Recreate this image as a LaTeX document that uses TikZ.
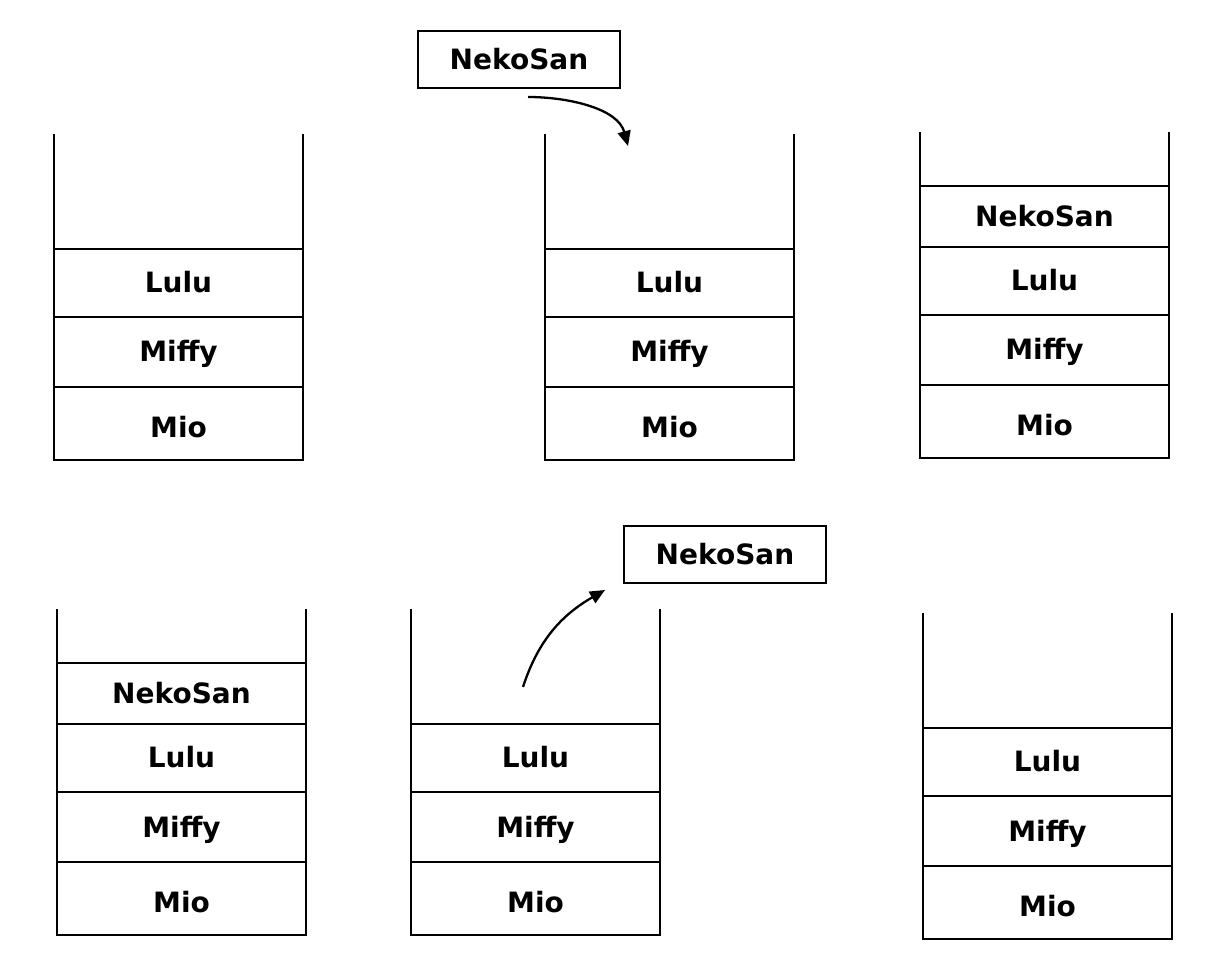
\documentclass[tikz,border=0pt]{standalone}
\usepackage{fontspec}
\setmainfont{DejaVu Sans}
\usepackage{tikz}
\usetikzlibrary{arrows.meta}
\usetikzlibrary{calc,positioning}

\tikzset{
    cell/.style={draw, rectangle, outer sep=0pt, minimum width=249pt,
        font=\fontsize{28}{32}\selectfont\bfseries, text height=20pt, text depth=0pt},
    mio/.style={cell, minimum height=73pt, text height=28pt},
    miffy/.style={cell, minimum height=70pt},
    lulu/.style={cell, minimum height=68pt},
    neko/.style={cell, minimum height=61pt},
    namebox/.style={draw, rectangle, outer sep=0pt, minimum width=202pt, minimum height=57pt,
        font=\fontsize{28}{32}\selectfont\bfseries, text height=20pt, text depth=0pt},
}

\begin{document}
\begin{tikzpicture}[x=1pt, y=1pt, line width=2.3pt, >={Triangle[length=15pt,width=13pt]}]

    \useasboundingbox (0,0) rectangle (1232,970);

    % top row
    \node[mio] (a-mio) at (178.5,546.5) {Mio};
    \node[miffy] (a-miffy) [above=0pt of a-mio] {Miffy};
    \node[lulu] (a-lulu) [above=0pt of a-miffy] {Lulu};
    \draw (a-lulu.north west) -- ++(0,115);
    \draw (a-lulu.north east) -- ++(0,115);

    \node[mio] (b-mio) at (669.5,546.5) {Mio};
    \node[miffy] (b-miffy) [above=0pt of b-mio] {Miffy};
    \node[lulu] (b-lulu) [above=0pt of b-miffy] {Lulu};
    \draw (b-lulu.north west) -- ++(0,115);
    \draw (b-lulu.north east) -- ++(0,115);

    \node[namebox] (b-in) at (519,910.5) {NekoSan};
    \coordinate (b-drop) at (628,824);
    \draw[->] ([xshift=9pt,yshift=-9pt]b-in.south) to[out=0,in=105,looseness=0.9] (b-drop);

    \node[mio] (c-mio) at (1044.5,548.5) {Mio};
    \node[miffy] (c-miffy) [above=0pt of c-mio] {Miffy};
    \node[lulu] (c-lulu) [above=0pt of c-miffy] {Lulu};
    \node[neko] (c-neko) [above=0pt of c-lulu] {NekoSan};
    \draw (c-neko.north west) -- ++(0,54);
    \draw (c-neko.north east) -- ++(0,54);

    % bottom row
    \node[mio] (d-mio) at (181.5,71.5) {Mio};
    \node[miffy] (d-miffy) [above=0pt of d-mio] {Miffy};
    \node[lulu] (d-lulu) [above=0pt of d-miffy] {Lulu};
    \node[neko] (d-neko) [above=0pt of d-lulu] {NekoSan};
    \draw (d-neko.north west) -- ++(0,54);
    \draw (d-neko.north east) -- ++(0,54);

    \node[mio] (e-mio) at (535.5,71.5) {Mio};
    \node[miffy] (e-miffy) [above=0pt of e-mio] {Miffy};
    \node[lulu] (e-lulu) [above=0pt of e-miffy] {Lulu};
    \draw (e-lulu.north west) -- ++(0,115);
    \draw (e-lulu.north east) -- ++(0,115);

    \node[namebox] (e-out) at (725,415.5) {NekoSan};
    \coordinate (e-lift) at (523,283);
    \draw[->] (e-lift) to[out=72,in=210] ([xshift=-19pt,yshift=-7pt]e-out.south west);

    \node[mio] (f-mio) at (1047.5,67.5) {Mio};
    \node[miffy] (f-miffy) [above=0pt of f-mio] {Miffy};
    \node[lulu] (f-lulu) [above=0pt of f-miffy] {Lulu};
    \draw (f-lulu.north west) -- ++(0,115);
    \draw (f-lulu.north east) -- ++(0,115);

\end{tikzpicture}
\end{document}
